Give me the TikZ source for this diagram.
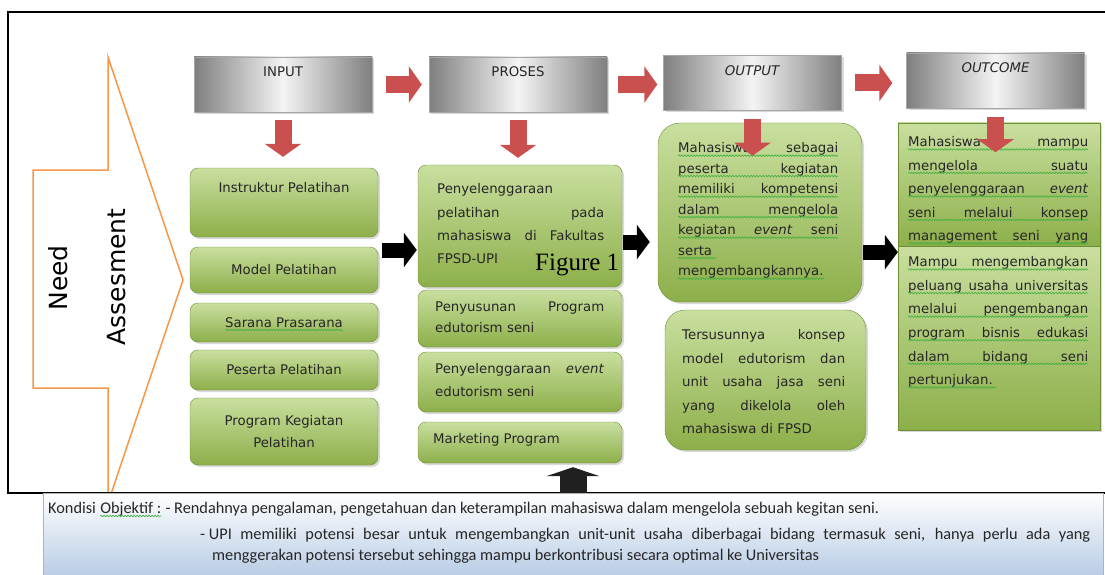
\documentclass[tikz,border=0pt]{standalone}
\usepackage{fontspec}
\setmainfont{DejaVu Sans}
\newfontfamily\calfont{Carlito}
\newfontfamily\timesfont{Liberation Serif}
\usetikzlibrary{calc}
\usetikzlibrary{positioning}
\usetikzlibrary{shadows}
\usetikzlibrary{arrows.meta}
\usetikzlibrary{decorations.pathmorphing}

\definecolor{hdrdark}{HTML}{7F7F7F}
\definecolor{hdrlight}{HTML}{F4F4F4}
\definecolor{gtop}{HTML}{C9DF9F}
\definecolor{gbot}{HTML}{8DAF4A}
\definecolor{gline}{HTML}{6E8E36}
\definecolor{arrred}{HTML}{C9504F}
\definecolor{orng}{HTML}{F79646}
\definecolor{bluebot}{HTML}{B9CDE5}
\definecolor{txt}{HTML}{262626}
\definecolor{spellg}{HTML}{3FAF3F}

\newcommand\boxfont[1]{\fontsize{13.3}{#1}\selectfont}

\tikzset{
  shd/.style={drop shadow={shadow xshift=2pt, shadow yshift=-2pt, opacity=.3}},
  hdr/.style={rectangle, draw=gray!70, left color=hdrdark, right color=hdrdark,
    middle color=hdrlight, minimum width=178, minimum height=55, shd},
  hdrtxt/.style={font=\boxfont{16}, text=txt, inner sep=0pt},
  gbox/.style={rectangle, rounded corners=8, draw=gline, top color=gtop,
    bottom color=gbot, shd, text=txt, font=\boxfont{22}, align=center},
  gsq/.style={rectangle, draw=gline, top color=gtop, bottom color=gbot, shd},
  boxtxt/.style={anchor=north west, inner sep=0pt, text=txt, align=left},
  btxt/.style={inner sep=0pt, text=txt, font=\calfont\fontsize{16.3}{21}\selectfont},
  redarr/.style={line width=17pt, arrred, -{Triangle[width=36pt,length=13pt]}},
  blkarr/.style={line width=15pt, black, -{Triangle[width=34pt,length=13pt]}},
  uparr/.style={line width=27pt, gray!25!black, -{Triangle[width=53pt,length=9pt]}},
  spell/.style={spellg, line width=0.6pt, decorate,
    decoration={snake, amplitude=0.8pt, segment length=3pt}}
}

\begin{document}
\begin{tikzpicture}[x=1pt, y=-1pt]
  \useasboundingbox (0,0) rectangle (1105,575);

  % need assesment
  \draw[orng, line width=1.5pt] (33,170) -- (108,170) -- (108,57) -- (183,280)
    -- (108,503) -- (108,388) -- (33,388) -- cycle;
  \node[rotate=90, font=\fontsize{25}{28}\selectfont] (need) at (58,278) {Need};
  \node[rotate=90, font=\fontsize{25}{28}\selectfont] (assess) at (117,277) {Assesment};

  % frame
  \draw[line width=2.2pt] (1105,12) -- (8,12) -- (8,493) -- (1105,493);

  % headers
  \node[hdr] (input) at (283,84.5) {};
  \node[hdrtxt, below=10pt of input.north] (inputlbl) {INPUT};
  \node[hdr] (proses) at (518,84.5) {};
  \node[hdrtxt, below=10pt of proses.north] (proseslbl) {PROSES};
  \node[hdr] (output) at (752.5,83) {};
  \node[hdrtxt, below=10pt of output.north] (outputlbl) {\textit{OUTPUT}};
  \node[hdr] (outcome) at (995.5,80.5) {};
  \node[hdrtxt, below=10pt of outcome.north] (outcomelbl) {\textit{OUTCOME}};

  % input
  \node[gbox, minimum width=188, minimum height=69] (inst) at (284,202.5) {};
  \node[hdrtxt] (insttxt) at (284,188) {Instruktur Pelatihan};
  \node[gbox, minimum width=188, minimum height=46] (model) at (284,270) {Model Pelatihan};
  \node[gbox, minimum width=188, minimum height=39] (sarana) at (284,322.5) {Sarana Prasarana};
  \node[gbox, minimum width=188, minimum height=40] (peserta) at (284,370) {Peserta Pelatihan};
  \node[gbox, minimum width=188, minimum height=67] (progkeg) at (284,431.5) {Program Kegiatan\\Pelatihan};
  \draw[spell] ($(sarana.center)+(-59,7.5)$) -- ++(118,0);

  % proses
  \node[gbox, minimum width=204, minimum height=122] (pelat) at (520,226) {};
  \node[boxtxt, text width=167, font=\boxfont{23.3}] (pelattxt) at (437,177.4)
    {\strut Penyelenggaraan\\ pelatihan\hfill pada\\ mahasiswa\hfill di\hfill Fakultas\\ FPSD-UPI};
  \node[gbox, minimum width=204, minimum height=57] (susun) at (520,318.5) {};
  \node[boxtxt, text width=169, font=\boxfont{21}] (susuntxt) at (435,296.8)
    {\strut Penyusunan\hfill Program\\ edutorism seni};
  \node[gbox, minimum width=204, minimum height=60] (evt) at (520,382) {};
  \node[boxtxt, text width=169, font=\boxfont{23}] (evttxt) at (435,357.4)
    {\strut Penyelenggaraan\hfill \textit{event}\\ edutorism seni};
  \node[gbox, minimum width=204, minimum height=41] (mkt) at (520,442.5) {};
  \node[boxtxt, anchor=west, font=\boxfont{16}] (mkttxt) at (433,440) {Marketing Program};
  \node[inner sep=0pt, anchor=base west, font=\timesfont\fontsize{25}{28}\selectfont] (figlbl) at (535,270) {Figure 1};

  % output
  \node[gbox, rounded corners=22, minimum width=204, minimum height=179] (outA) at (760,212.5) {};
  \node[boxtxt, text width=160, font=\boxfont{20.5}] (outAtxt) at (678,138.2)
    {\strut Mahasiswa\hfill sebagai\\ peserta\hfill kegiatan\\ memiliki\hfill kompetensi\\
     dalam\hfill mengelola\\ kegiatan\hfill \textit{event}\hfill seni\\ serta\\ mengembangkannya.};
  \foreach \k/\w in {0/160,1/160,2/160,3/160,4/160,5/38,6/146}
    \draw[spell] ($(outAtxt.north west)+(0,17.4+\k*20.5)$) -- ++(\w,0);
  \node[gbox, rounded corners=20, minimum width=201, minimum height=140] (outB) at (765.5,380) {};
  \node[boxtxt, text width=163, font=\boxfont{23.5}] (outBtxt) at (682,323)
    {\strut Tersusunnya\hfill konsep\\ model\hfill edutorism\hfill dan\\ unit\hfill usaha\hfill jasa\hfill seni\\
     yang\hfill dikelola\hfill oleh\\ mahasiswa di FPSD};

  % outcome
  \node[gsq, minimum width=202, minimum height=123] (ocA) at (999,184.5) {};
  \node[boxtxt, text width=180, font=\boxfont{23.5}] (ocAtxt) at (908,130)
    {\strut Mahasiswa\hfill mampu\\ mengelola\hfill suatu\\ penyelenggaraan\hfill \textit{event}\\
     seni\hfill melalui\hfill konsep\\ management\hfill seni\hfill yang};
  \foreach \k in {0,...,4}
    \draw[spell] ($(ocAtxt.north west)+(0,19.45+\k*23.5)$) -- ++(180,0);
  \node[gsq, minimum width=202, minimum height=184] (ocB) at (999,338) {};
  \node[boxtxt, text width=180, font=\boxfont{23.6}] (ocBtxt) at (908,250)
    {\strut Mampu\hfill mengembangkan\\ peluang\hfill usaha\hfill universitas\\ melalui\hfill pengembangan\\
     program\hfill bisnis\hfill edukasi\\ dalam\hfill bidang\hfill seni\\ pertunjukan.};
  \foreach \k/\w in {0/180,1/180,2/180,3/180,4/180,5/88}
    \draw[spell] ($(ocBtxt.north west)+(0,19.45+\k*23.6)$) -- ++(\w,0);

  % red arrows
  \draw[redarr, shorten <=14pt, shorten >=7pt] (input.east) -- (input.east -| proses.west);
  \draw[redarr, shorten <=11pt, shorten >=6pt] (proses.east) -- (proses.east -| output.west);
  \draw[redarr, shorten <=13pt, shorten >=14pt] (output.east) -- (output.east -| outcome.west);
  \draw[redarr, shorten <=8pt, shorten >=11pt] (input.south) -- (input.south |- inst.north);
  \draw[redarr, shorten <=8pt, shorten >=7pt] (proses.south) -- (proses.south |- pelat.north);
  \coordinate (outAin) at ($(output.south)+(0,45)$);
  \draw[redarr, shorten <=8pt] (output.south) -- (outAin);
  \coordinate (ocAin) at ($(outcome.south)+(0,44)$);
  \draw[redarr, shorten <=9pt] (outcome.south) -- (ocAin);

  % black arrows
  \draw[blkarr, shorten <=4pt, shorten >=1pt] ([yshift=-24pt]pelat.west -| inst.east) -- ([yshift=-24pt]pelat.west);
  \draw[blkarr, shorten <=1pt, shorten >=8pt] ([yshift=-16pt]pelat.east) -- ([yshift=-16pt]pelat.east -| outA.west);
  \draw[blkarr, shorten <=1pt] ([yshift=-6pt]outA.east |- ocA.south) -- ([yshift=-6pt]ocA.south west);

  % kondisi objektif
  \node[rectangle, draw=gray!60, top color=white, bottom color=bluebot,
    minimum width=1060, minimum height=82, inner sep=0pt] (kond) at (573,534) {};
  \draw[uparr, shorten >=4pt] (kond.north) -- (kond.north |- mkt.south);
  \node[btxt, anchor=base west] (kond1) at (48,513) {Kondisi};
  \node[btxt, base right=4pt of kond1] (kond2) {Objektif :};
  \node[btxt, base right=4pt of kond2] (kond3) {- Rendahnya pengalaman, pengetahuan dan keterampilan mahasiswa dalam mengelola sebuah kegitan seni.};
  \draw[spell] ([yshift=-3pt]kond2.base west) -- ([yshift=-3pt]kond2.base east);
  \node[btxt, anchor=base west] (kond4) at (200,539)
    {\parbox[t]{890pt}{\tolerance=10000\hangindent=12pt\hangafter=1 \mbox{- UPI} memiliki potensi besar untuk mengembangkan unit-unit usaha diberbagai bidang termasuk seni, hanya perlu ada yang\linebreak menggerakan potensi tersebut sehingga mampu berkontribusi secara optimal ke Universitas}};
\end{tikzpicture}
\end{document}
